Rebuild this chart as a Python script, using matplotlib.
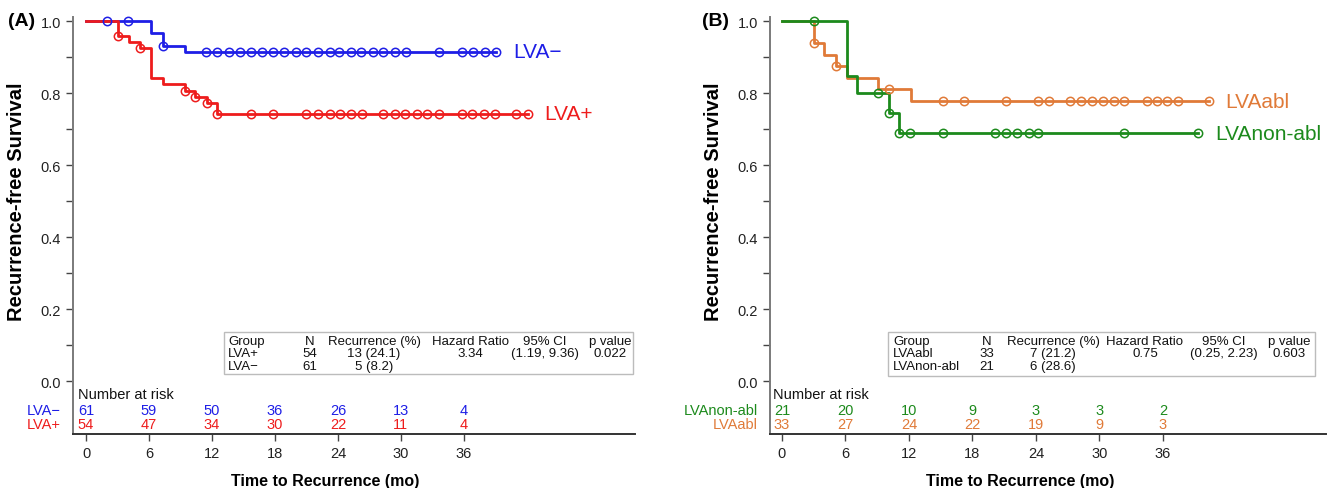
import matplotlib
matplotlib.use('Agg')
import matplotlib.pyplot as plt
import numpy as np
from matplotlib.patches import Rectangle
import matplotlib.transforms as mtransforms

plt.rcParams['font.family'] = ['Liberation Sans', 'DejaVu Sans']

# ---------------- data ----------------
# Panel A
lvaneg_times = [0, 6.2, 7.3, 9.4]
lvaneg_surv = [1.0, 0.967, 0.930, 0.915]
lvaneg_end = 39.1
lvaneg_cens = [2.0, 4.0, 7.3, 11.4, 12.5, 13.6, 14.7, 15.7, 16.8, 17.8, 18.9, 20.0, 21.0,
               22.1, 23.2, 24.1, 25.2, 26.2, 27.3, 28.3, 29.4, 30.5, 33.6, 35.8, 36.9, 38.0, 39.1]

lvapos_times = [0, 3.0, 4.1, 5.1, 6.2, 7.3, 9.4, 10.4, 11.5, 12.5]
lvapos_surv = [1.0, 0.959, 0.943, 0.924, 0.842, 0.825, 0.806, 0.790, 0.772, 0.742]
lvapos_end = 42.1
lvapos_cens = [3.0, 5.1, 9.4, 10.4, 11.5, 12.5, 15.7, 17.8, 21.0, 22.1, 23.2, 24.2, 25.2, 26.3,
               28.3, 29.4, 30.4, 31.5, 32.5, 33.6, 35.8, 36.8, 37.9, 39.0, 41.0, 42.1]

# Panel B
abl_times = [0, 3.0, 4.0, 5.1, 6.1, 9.1, 12.2]
abl_surv = [1.0, 0.938, 0.906, 0.874, 0.843, 0.811, 0.777]
abl_end = 40.3
abl_cens = [3.0, 5.1, 10.1, 15.2, 17.2, 21.2, 24.2, 25.2, 27.2, 28.3, 29.3, 30.3, 31.4, 32.3,
            34.5, 35.4, 36.4, 37.4, 40.3]

nonabl_times = [0, 6.1, 7.1, 10.1, 11.1]
nonabl_surv = [1.0, 0.848, 0.799, 0.744, 0.688]
nonabl_end = 39.3
nonabl_cens = [3.0, 9.1, 10.1, 11.1, 12.1, 15.2, 20.1, 21.2, 22.2, 23.3, 24.2, 32.3, 39.3]

risk_times = [0, 6, 12, 18, 24, 30, 36]
risk_lvaneg = [61, 59, 50, 36, 26, 13, 4]
risk_lvapos = [54, 47, 34, 30, 22, 11, 4]
risk_nonabl = [21, 20, 10, 9, 3, 3, 2]
risk_abl = [33, 27, 24, 22, 19, 9, 3]

table_header = ["Group", "N", "Recurrence (%)", "Hazard Ratio", "95% CI", "p value"]
table_a = [["LVA+", "54", "13 (24.1)", "3.34", "(1.19, 9.36)", "0.022"],
           ["LVA\u2212", "61", "5 (8.2)", "", "", ""]]
table_b = [["LVAabl", "33", "7 (21.2)", "0.75", "(0.25, 2.23)", "0.603"],
           ["LVAnon-abl", "21", "6 (28.6)", "", "", ""]]

C_BLUE = '#1e1ee6'
C_RED = '#ee1c1c'
C_ORANGE = '#e07a38'
C_GREEN = '#1c8a1c'

# ---------------- layout ----------------
W, H = 1330, 489
fig = plt.figure(figsize=(W / 100, H / 100), dpi=100)


def fx(x):
    return x / W


def fy(y):
    return 1 - y / H


TOP, BOT = 17.7, 435
YLIM = (-0.147, 1.012)


def make_axes(left, right, xlim):
    ax = fig.add_axes([fx(left), fy(BOT), fx(right - left), (BOT - TOP) / H])
    ax.set_xlim(*xlim)
    ax.set_ylim(*YLIM)
    for s in ['top', 'right']:
        ax.spines[s].set_visible(False)
    ax.spines['left'].set_color('#7a7a7a')
    ax.spines['left'].set_linewidth(1.4)
    ax.spines['bottom'].set_color('#333333')
    ax.spines['bottom'].set_linewidth(1.4)
    ax.set_xticks(risk_times)
    ax.set_yticks([0, 0.2, 0.4, 0.6, 0.8, 1.0])
    ax.set_yticklabels(['0.0', '0.2', '0.4', '0.6', '0.8', '1.0'])
    ax.set_yticks([0.1, 0.3, 0.5, 0.7, 0.9], minor=True)
    ax.tick_params(axis='both', which='major', length=5, width=1, color='#444444',
                   labelsize=10.5, labelcolor='#222222')
    ax.tick_params(axis='y', which='minor', length=5, width=1, color='#444444')
    ax.set_ylabel('Recurrence-free Survival', fontsize=14.5, fontweight='bold')
    ax.yaxis.set_label_coords(-0.084, (0.5 - YLIM[0]) / (YLIM[1] - YLIM[0]))
    return ax


def km(ax, times, surv, end, cens, color):
    t = list(times) + [end]
    s = list(surv) + [surv[-1]]
    ax.step(t, s, where='post', color=color, lw=2, clip_on=False, zorder=3)
    idx = np.searchsorted(np.array(times), np.array(cens), side='right') - 1
    cy = np.array(surv)[idx]
    ax.plot(cens, cy, 'o', mfc='none', mec=color, ms=6, mew=1.1, clip_on=False, zorder=4)


def risk_table(ax, rows, labels, colors):
    tr = ax.transData
    ax.text(-0.8, -0.036, 'Number at risk', fontsize=10.5, ha='left', va='center',
            transform=tr, color='#111111')
    ys = [-0.081, -0.119]
    for vals, lab, col, y in zip(rows, labels, colors, ys):
        for t, v in zip(risk_times, vals):
            ax.text(t, y, str(v), color=col, fontsize=10.5, ha='center', va='center',
                    transform=tr)
        ax.text(-0.022, y, lab, color=col, fontsize=10.5, ha='right', va='center',
                transform=mtransforms.blended_transform_factory(ax.transAxes, tr))


def stat_table(box, cols, rows):
    x0, y0, x1, y1 = box
    fig.patches.append(Rectangle((fx(x0), fy(y1)), fx(x1 - x0), (y1 - y0) / H,
                                 transform=fig.transFigure, fill=True, facecolor='white',
                                 edgecolor='#bcbcbc', lw=1.0, zorder=5))
    row_y = [341.7, 354.3, 367.5]
    for r, y in zip([table_header] + rows, row_y):
        for (cx, ha), txt in zip(cols, r):
            fig.text(fx(cx), fy(y), txt, ha=ha, va='center', fontsize=9.5,
                     color='#111111', zorder=6)


# ---------------- panel A ----------------
axA = make_axes(73, 635, (-1.24, 52.3))
km(axA, lvaneg_times, lvaneg_surv, lvaneg_end, lvaneg_cens, C_BLUE)
km(axA, lvapos_times, lvapos_surv, lvapos_end, lvapos_cens, C_RED)
axA.text(40.7, lvaneg_surv[-1], 'LVA\u2212', color=C_BLUE, fontsize=15, va='center', ha='left')
axA.text(43.7, lvapos_surv[-1], 'LVA+', color=C_RED, fontsize=15, va='center', ha='left')
risk_table(axA, [risk_lvaneg, risk_lvapos], ['LVA\u2212', 'LVA+'], [C_BLUE, C_RED])
axA.set_xlabel('Time to Recurrence (mo)', fontsize=11.5, fontweight='bold')
axA.xaxis.set_label_coords((325 - 73) / 562, -0.093)
fig.text(fx(8), fy(22), '(A)', fontsize=14, fontweight='bold', ha='left', va='center')
stat_table((224, 333, 633, 375),
           [(228, 'left'), (310, 'center'), (374, 'center'), (470, 'center'),
            (545, 'center'), (610, 'center')], table_a)

# ---------------- panel B ----------------
axB = make_axes(770, 1326, (-1.13, 51.4))
km(axB, abl_times, abl_surv, abl_end, abl_cens, C_ORANGE)
km(axB, nonabl_times, nonabl_surv, nonabl_end, nonabl_cens, C_GREEN)
axB.text(41.9, abl_surv[-1], 'LVAabl', color=C_ORANGE, fontsize=15, va='center', ha='left')
axB.text(40.9, nonabl_surv[-1], 'LVAnon-abl', color=C_GREEN, fontsize=15, va='center',
         ha='left', clip_on=False)
risk_table(axB, [risk_nonabl, risk_abl], ['LVAnon-abl', 'LVAabl'], [C_GREEN, C_ORANGE])
axB.set_xlabel('Time to Recurrence (mo)', fontsize=11.5, fontweight='bold')
axB.xaxis.set_label_coords((1020 - 770) / 556, -0.093)
fig.text(fx(702), fy(22), '(B)', fontsize=14, fontweight='bold', ha='left', va='center')
stat_table((888, 333, 1315, 377),
           [(893, 'left'), (987, 'center'), (1053, 'center'), (1145, 'center'),
            (1224, 'center'), (1289, 'center')], table_b)

fig.savefig('out.png', dpi=100)
